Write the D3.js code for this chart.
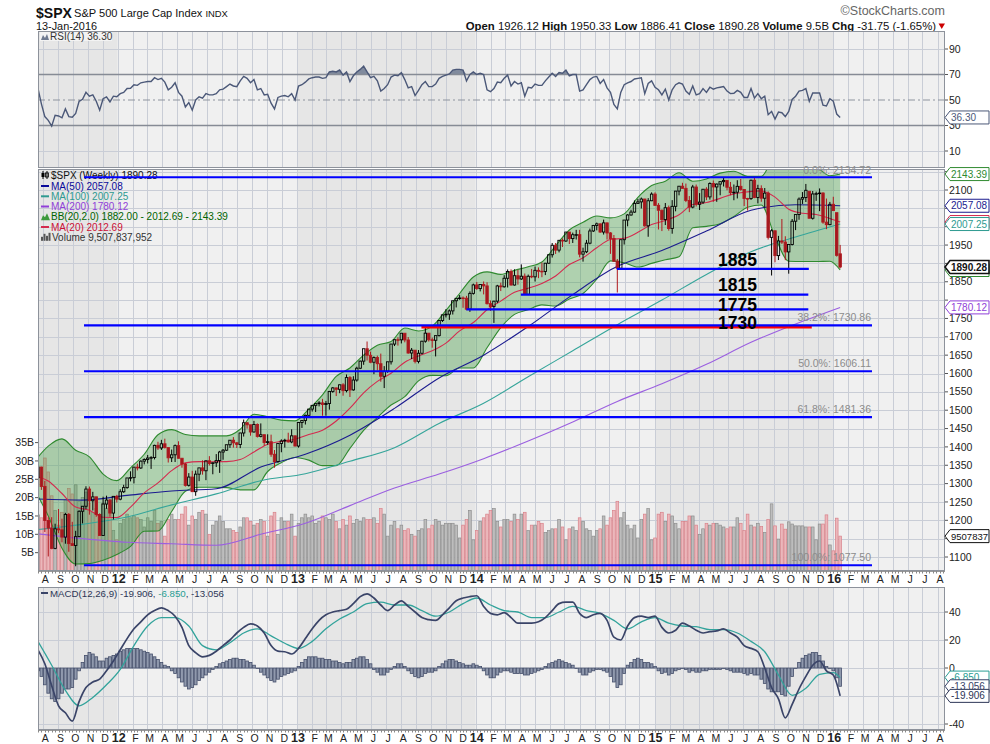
<!DOCTYPE html>
<html>
<head>
<meta charset="utf-8">
<title>$SPX weekly</title>
<script src="https://cdn.jsdelivr.net/npm/d3@7/dist/d3.min.js"></script>
<style>
html,body{margin:0;padding:0;background:#ffffff;}
svg{display:block;}
</style>
</head>
<body>
<svg id="chart" width="990" height="744"></svg>
<script>
// ================= DATA =================
// weekly bars, each dated on its Friday
const firstWeek = [2011, 6, 22];
const lastWeek = [2016, 0, 15];

const opens = [1315.9,1345.0,1292.3,1199.4,1178.8,1123.5,1176.8,1174.0,1154.2,1216.0,1136.4,1131.4,1155.5,1224.6,1238.3,1285.1,1253.2,1263.9,1215.7,1158.7,1244.3,1255.2,1219.7,1265.3,
1257.6,1277.8,1289.1,1315.4,1316.3,1344.9,1342.6,1361.2,1365.7,1369.6,1370.9,1404.2,1397.1,1408.5,1398.1,1370.3,1378.5,1403.4,1369.1,1353.4,1295.2,1317.8,1278.0,1325.7,1342.8,1335.0,1362.2,1354.7,1356.8,1362.7,1386.0,1391.0,1405.9,1418.2,1411.1,1406.6,1437.9,1465.8,1460.2,1440.7,1460.9,1428.6,1433.2,1411.9,1414.2,1379.9,1359.9,1409.2,1416.2,1418.1,1413.6,1430.2,
1402.4,1466.5,1472.1,1486.0,1503.0,1513.2,1517.9,1519.8,1515.6,1518.2,1551.2,1560.7,1556.9,1569.2,1553.3,1588.9,1555.3,1582.2,1614.4,1633.7,1667.5,1649.6,1630.7,1643.4,1626.7,1592.4,1606.3,1631.9,1680.2,1692.1,1691.7,1709.7,1691.4,1655.8,1663.5,1633.0,1655.2,1688.0,1709.9,1691.8,1690.5,1703.2,1744.5,1759.8,1761.6,1770.6,1798.2,1804.8,1805.8,1805.1,1775.3,1818.3,
1841.4,1831.4,1842.4,1838.7,1790.3,1782.6,1797.0,1838.6,1836.3,1859.5,1878.0,1841.1,1866.5,1857.6,1865.1,1815.7,1864.9,1863.4,1881.1,1878.5,1877.9,1900.5,1923.6,1949.4,1936.2,1962.9,1961.0,1985.4,1967.6,1978.2,1978.3,1925.2,1931.6,1955.1,1988.4,2003.4,2007.7,1985.5,2010.4,1982.9,1967.9,1906.1,1886.8,1964.6,2018.1,2031.9,2039.8,2063.5,2067.6,2075.4,2002.3,2070.7,
2088.8,2058.2,2044.8,2019.4,2051.8,1995.0,2055.5,2097.0,2110.3,2104.5,2071.3,2053.4,2108.1,2061.0,2067.0,2102.1,2081.2,2117.7,2108.3,2116.1,2122.7,2126.1,2107.4,2092.8,2094.1,2110.0,2101.5,2076.8,2076.6,2126.6,2079.7,2103.8,2077.6,2091.5,1970.9,1988.9,1921.2,1961.1,1958.1,1931.3,1951.4,2014.9,2033.1,2075.2,2079.4,2096.6,2023.0,2089.2,2090.1,2091.7,2012.4,2005.6,2061.0,
2038.2,1926.12];

const highs = [1347.0,1345.9,1307.4,1208.5,1208.5,1190.7,1230.7,1204.4,1220.4,1220.0,1195.9,1171.4,1227.0,1239.0,1292.7,1292.0,1277.6,1264.3,1219.0,1264.3,1267.1,1258.0,1265.9,1269.4,
1284.6,1296.8,1315.5,1333.5,1345.3,1354.3,1363.4,1368.9,1378.0,1374.8,1405.9,1414.0,1419.2,1422.4,1398.5,1392.8,1406.6,1415.3,1369.2,1356.1,1328.5,1334.9,1335.5,1343.3,1363.5,1363.0,1374.8,1357.7,1380.4,1389.2,1394.2,1406.0,1418.7,1426.7,1413.5,1438.5,1474.5,1467.1,1460.3,1470.9,1464.0,1464.0,1433.7,1434.3,1433.4,1391.4,1409.3,1420.6,1422.2,1438.6,1448.0,1430.6,
1467.9,1472.8,1487.9,1503.3,1514.4,1518.3,1524.7,1530.9,1525.3,1552.5,1563.3,1561.6,1570.3,1573.7,1597.4,1593.0,1592.6,1618.5,1635.0,1667.5,1687.2,1659.6,1646.5,1648.7,1654.2,1620.1,1632.1,1680.6,1693.1,1698.8,1709.7,1709.7,1699.4,1669.5,1663.6,1664.0,1689.0,1729.9,1710.0,1698.0,1703.4,1745.3,1759.8,1775.2,1774.5,1798.2,1804.8,1813.6,1810.0,1811.5,1823.8,1844.9,
1849.4,1843.2,1850.8,1848.6,1798.8,1798.0,1841.6,1847.5,1867.9,1883.6,1883.6,1883.9,1882.6,1897.3,1872.5,1869.6,1884.9,1891.3,1889.1,1902.2,1901.3,1924.0,1955.6,1955.6,1963.9,1968.2,1985.6,1985.6,1983.9,1991.4,1991.4,1942.9,1964.0,1994.8,2005.0,2011.2,2009.1,2019.3,2011.2,1985.2,1977.4,1912.0,1965.3,2018.2,2034.3,2046.2,2071.5,2075.8,2079.5,2075.8,2077.9,2093.6,
2093.6,2064.4,2046.8,2064.6,2057.6,2072.4,2097.4,2110.6,2119.6,2117.5,2083.5,2113.9,2114.9,2091.6,2102.6,2107.6,2120.9,2125.9,2117.7,2123.9,2134.7,2126.2,2121.9,2115.0,2126.7,2130.0,2102.0,2078.7,2128.2,2132.8,2114.2,2112.7,2105.4,2096.2,1993.5,1989.5,1975.0,2021.0,1974.0,1952.0,2020.9,2033.5,2079.7,2094.3,2116.5,2096.6,2097.3,2095.6,2104.3,2093.8,2076.7,2067.6,2081.6,
2038.2,1950.33];

const lows = [1295.9,1282.9,1168.1,1101.5,1121.1,1121.1,1164.9,1140.1,1136.2,1114.2,1131.1,1074.8,1154.0,1191.5,1230.0,1215.4,1226.6,1209.6,1158.2,1158.2,1231.5,1209.5,1202.4,1248.6,
1254.5,1274.7,1286.0,1306.1,1300.5,1335.9,1340.0,1352.3,1354.9,1340.0,1365.9,1391.6,1391.6,1395.7,1357.4,1358.8,1358.8,1367.8,1343.3,1291.9,1291.9,1277.1,1266.7,1306.6,1324.4,1309.3,1349.4,1325.4,1345.1,1329.2,1365.0,1389.0,1397.3,1398.0,1397.0,1396.6,1428.2,1449.6,1430.5,1439.0,1425.5,1426.0,1403.3,1405.9,1373.0,1343.4,1357.0,1385.4,1398.2,1411.9,1410.0,1401.6,
1398.1,1451.6,1461.0,1485.0,1496.3,1495.0,1510.4,1485.0,1485.0,1501.5,1547.4,1538.6,1546.2,1539.5,1548.6,1536.0,1553.0,1577.7,1612.0,1623.7,1635.5,1628.0,1598.2,1608.1,1577.7,1560.3,1601.9,1624.4,1674.8,1676.0,1681.9,1684.9,1654.0,1639.4,1627.5,1627.6,1652.0,1684.0,1687.0,1670.4,1646.5,1700.7,1740.5,1752.7,1746.2,1760.7,1780.0,1800.9,1779.1,1772.3,1767.99,1815.0,
1827.7,1823.7,1815.5,1788.0,1770.5,1737.9,1791.8,1824.6,1834.0,1834.4,1839.5,1839.5,1842.0,1855.0,1814.4,1815.0,1859.7,1850.6,1859.8,1862.4,1868.1,1899.0,1915.9,1925.8,1930.0,1944.7,1958.5,1952.9,1955.6,1965.0,1916.4,1904.8,1928.0,1952.0,1985.6,1990.1,1983.2,1978.6,1965.0,1926.0,1904.0,1820.7,1884.0,1951.4,2001.0,2030.2,2038.0,2062.3,2049.6,2000.0,1972.6,2069.7,
2057.0,1992.4,1988.1,2004.5,1989.2,1980.9,2041.9,2085.4,2103.8,2067.0,2039.7,2050.0,2055.1,2045.5,2062.0,2072.4,2073.9,2067.9,2067.9,2085.6,2109.6,2099.2,2085.7,2072.1,2077.0,2098.0,2056.3,2044.0,2073.0,2077.7,2063.5,2067.9,2052.1,1965.0,1867.0,1903.1,1909.2,1953.0,1908.8,1872.0,1949.0,1990.7,2018.9,2062.0,2067.3,2022.7,2019.4,2070.3,2042.4,2008.0,1993.3,2004.0,2043.6,
1918.5,1886.41];

const closes = [1345.0,1292.3,1199.4,1178.8,1123.5,1176.8,1174.0,1154.2,1216.0,1136.4,1131.4,1155.5,1224.6,1238.3,1285.1,1253.2,1263.9,1215.7,1158.7,1244.3,1255.2,1219.7,1265.3,1257.6,
1277.8,1289.1,1315.4,1316.3,1344.9,1342.6,1361.2,1365.7,1369.6,1370.9,1404.2,1397.1,1408.5,1398.1,1370.3,1378.5,1403.4,1369.1,1353.4,1295.2,1317.8,1278.0,1325.7,1342.8,1335.0,1362.2,1354.7,1356.8,1362.7,1386.0,1391.0,1405.9,1418.2,1411.1,1406.6,1437.9,1465.8,1460.2,1440.7,1460.9,1428.6,1433.2,1411.9,1414.2,1379.9,1359.9,1409.2,1416.2,1418.1,1413.6,1430.2,1402.4,
1466.5,1472.1,1486.0,1503.0,1513.2,1517.9,1519.8,1515.6,1518.2,1551.2,1560.7,1556.9,1569.2,1553.3,1588.9,1555.3,1582.2,1614.4,1633.7,1667.5,1649.6,1630.7,1643.4,1626.7,1592.4,1606.3,1631.9,1680.2,1692.1,1691.7,1709.7,1691.4,1655.8,1663.5,1633.0,1655.2,1688.0,1709.9,1691.8,1690.5,1703.2,1744.5,1759.8,1761.6,1770.6,1798.2,1804.8,1805.8,1805.1,1775.3,1818.3,1841.4,
1831.4,1842.4,1838.7,1790.3,1782.6,1797.0,1838.6,1836.3,1859.5,1878.0,1841.1,1866.5,1857.6,1865.1,1815.7,1864.9,1863.4,1881.1,1878.5,1877.9,1900.5,1923.6,1949.4,1936.2,1962.9,1961.0,1985.4,1967.6,1978.2,1978.3,1925.2,1931.6,1955.1,1988.4,2003.4,2007.7,1985.5,2010.4,1982.9,1967.9,1906.1,1886.8,1964.6,2018.1,2031.9,2039.8,2063.5,2067.6,2075.4,2002.3,2070.7,2088.8,
2058.2,2044.8,2019.4,2051.8,1995.0,2055.5,2097.0,2110.3,2104.5,2071.3,2053.4,2108.1,2061.0,2067.0,2102.1,2081.2,2117.7,2108.3,2116.1,2122.7,2126.1,2107.4,2092.8,2094.1,2110.0,2101.5,2076.8,2076.6,2126.6,2079.7,2103.8,2077.6,2091.5,1970.9,1988.9,1921.2,1961.1,1958.1,1931.3,1951.4,2014.9,2033.1,2075.2,2079.4,2099.2,2023.0,2089.2,2090.1,2091.7,2012.4,2005.6,2061.0,2043.9,
1922.0,1890.28];

// weekly volume, billions of shares
const volumesB = [15.3,14.5,30.8,27.0,20.5,16.5,12.5,16.0,19.5,22.5,21.0,23.5,19.0,20.0,21.5,18.5,16.0,17.0,11.5,18.5,17.0,18.0,11.0,8.5,
13.0,14.0,15.5,14.5,15.0,14.5,14.0,12.0,14.5,13.5,16.5,13.0,13.5,9.5,14.0,15.5,14.0,14.0,15.5,17.5,12.5,15.0,14.0,16.0,16.5,15.5,10.0,12.5,13.5,15.0,13.5,11.5,11.5,11.0,10.5,12.0,14.5,14.5,13.5,12.5,13.0,14.0,13.5,9.5,15.0,16.0,10.0,14.5,13.5,13.5,15.5,9.5,
13.0,14.5,15.5,14.5,15.0,13.0,13.5,15.0,14.5,14.0,15.5,13.5,11.5,14.0,12.5,15.0,13.0,14.0,13.5,14.5,14.0,14.0,14.5,13.0,17.0,15.5,9.5,12.5,13.5,11.5,12.5,11.0,11.5,10.0,9.5,11.0,11.5,14.0,11.5,12.5,14.0,13.5,12.5,13.0,13.0,13.0,12.5,9.0,12.5,14.0,16.5,8.5,
11.0,13.5,14.5,15.5,16.5,17.0,13.5,12.0,14.0,14.0,13.5,15.5,14.0,15.5,16.0,11.0,12.5,12.5,13.5,13.0,10.5,11.0,11.5,11.5,14.0,12.0,8.5,11.5,12.0,11.0,14.5,13.5,11.5,11.0,9.5,11.0,11.5,15.0,12.5,14.5,16.5,19.0,14.5,16.0,12.5,11.5,12.5,9.0,14.0,15.5,17.0,8.5,
9.0,15.5,16.0,13.5,15.5,15.0,13.0,11.5,13.5,13.5,15.0,15.0,12.5,10.0,11.5,13.0,12.5,13.0,13.0,12.5,12.0,11.5,12.0,12.0,14.5,13.0,11.0,15.5,12.5,12.0,13.0,12.1,10.5,14.0,18.3,12.3,8.7,12.8,11.4,13.4,12.8,12.3,12.3,12.3,12.0,12.0,12.0,8.5,12.8,12.8,15.3,7.1,5.5,
14.4,9.51];

// RSI(14), weekly
const rsi14 = [59,47,37,34,29.5,38,37.5,36,43,37,36.5,39.5,49,50.5,56,53,54,49,42,51,52.5,48.5,53,52.5,
55,56,59,59.2,62,61.5,63.5,64,64.5,64.5,67.5,66,67,64,58,60,63.5,56,53,44.5,48,42,50,52.5,
51.5,55,54,54,55,58,58.5,60.5,62.5,61,60.5,65,68.5,67,63.5,66,58,59,54,54.5,47.5,43,52,53,
53.5,52.5,55,50,61,62,64,66.5,67.5,68,68,67,67.5,72,72.5,72,73.5,69.5,72,64.5,69,72,74,76.5,
72,67.5,68.5,65,57,59,62,68,69.5,69,71.5,66,59.5,60.5,53.5,57.5,62,64.5,60.5,60.5,62.5,67,68.5,69.5,
70.5,73.5,74,74,73.5,65,70,72,70,71,70,58,56.5,59,64,63.5,67,69.5,61,64.5,62.5,63.5,53,60,
59.5,62.5,61.5,61.5,65,68,71,68.5,71.5,71,73.5,69,70,70,57,58,62,66,68,68.5,63,66,59.5,56,
46.5,43,56,62,63.5,64.5,66.5,67,67.5,55,63,65,60,58,54,58.5,50,58,62,63.5,62.5,57,54.5,61,
54,55,59,56,60,58.5,59.5,60,60.5,57,55,55.3,57.5,56,52,52,59,51.5,55,51,53,38.5,41,35,
40.5,40,37,41,50.5,53,57,57.5,59,49,55.5,55.5,55.5,46,45.3,51,49,39,36.3];

// MACD(12,26,9): line sampled every 2nd week (week 0..232) + final week
const macdLine = [13,3,-12.6,-27,-32,-38,-24,-14,-10,-8,
-2,5,13,21,28,33,38,41,43,41,
37,29,16,11,8,9,12,16,20,25,
29,31.5,30,25,16,12,11.6,10,14,21,
28,34,38,40,41,42,46,51,53,50,
45,41,45,48,44,40,36,34.5,34,38,
43,48,50,51,51.6,44,39,38,39.5,36,
32,32,32,33,36,41,46,47,47,39,
36,38,39,34,22,20,30,36,37,36,
37,29,25,27,32,30,27,25,26,26.5,
28,25,22,16,14,11.6,0,-14,-22,-35.6,
-26,-15,-6,2,5,-2,-5,
-19.906];
// signal line sampled every 4th week (week 0..232) + final week
const macdSignal = [19,2,-16,-27,-21,-12,-1,16,30,36,36,30,16,13,18,25,28,23,17.7,14,
19,28,35,40,46,47,45,45,41,37,40,46,50,45,41,40,36,36,40,44,
41,39,34,28,33,36,32,30,29.5,27.4,27.4,25,19,11.6,-5,-19.5,-14.5,-4.5,-3.3,
-6.85];
// histogram, weekly
const macdHist = [-2,-6,-12,-18,-22,-24,-22,-18,-15,-15,-14,-8,
-2,4,9,11,10,8,5,5,7,8,9,10,
12,13,14,14,14,14,13,12,11,10,8,6,
4,2,1,-2,-4,-7,-10,-13,-15,-14,-12,-9,
-7,-5,-3,-1,1,3,4,5,6,7,7,6,
6,5,4,2,0,-3,-5,-7,-9,-10,-8,-6,
-5,-4,-3,-2,1,4,6,8,8,8,7,7,
6,6,5,5,4,3,4,4,6,7,8,8,
6,3,-1,-3,-5,-5,-3,-1,1,3,3,1,
-2,-4,-6,-7,-6,-4,-3,-3,-2,1,3,5,
6,6,5,4,3,2,2,3,2,1,-2,-5,
-7,-7,-5,-3,-2,-2,-3,-4,-4,-4,-5,-5,
-4,-3,-2,-1,1,3,4,5,6,5,4,3,
2,0,-3,-5,-5,-3,-2,-1,-1,-2,-3,-6,
-10,-14,-12,-4,2,4,6,7,6,4,4,3,
1,-2,-4,-3,-5,-4,-2,-1,0,-1,-3,-2,
-3,-3,-2,-2,-1,-1,-1,-1,0,-1,-2,-3,
-3,-3,-4,-5,-4,-5,-5,-8,-11,-15,-17,-17,
-17,-19,-20,-13,-6,0,4,7,9,10,11,11,
9,5,1,0,-2,-7,-13.056];

// moving averages, sampled every 13 weeks (week 0 .. 234)
const ma50 = [1258,1255,1268,1280,1286,1345,1380,1432,1505,1588,1650,1728,1815,1892,1935,1988,2045,2060,2057.08];
const ma100 = [1175,1189,1209,1242,1272,1308,1327,1361,1398,1464,1519,1591,1662,1733,1800,1870,1932,1972,2007.25];
const ma200 = [1163,1150,1140,1136,1132,1162,1192,1240,1288,1326,1368,1416,1468,1524,1572,1625,1685,1735,1780.12];

// MA(20) and Bollinger Bands(20,2): week 0, then weeks 3,7,11,...,231, then final week
const ma20 = [1318.7,1307.3,1273,1236.1,1227.5,1208.3,1207.5,1235.9,1274.8,1301.8,1335.4,1356.5,1359.9,1359.6,1359.8,1365.7,1386.1,1407.3,1415,1421,1433.6,1445.6,1470.5,1505.6,1547.2,1578.4,1600.6,1630.5,1647.6,1661.8,1682.7,1716.2,1738.9,1773.6,1797.3,1821.1,1832.3,1845.3,1865.7,1896.8,1915.2,1942.7,1965.1,1968.4,1984.7,2005.9,2016.9,2032.4,2060.5,2065.8,2077.2,2089.5,2094.9,2097.5,2080.6,2047.4,2036.5,2033.3,2022.4,2012.69];
const bbUpper = [1372,1402,1422,1391,1373,1326,1308,1343,1380,1433,1447,1434,1430,1430,1430,1448,1489,1482,1473,1471,1503,1542,1592,1615,1650,1677,1687,1724,1716,1729,1772,1818,1863,1877,1870,1881,1891,1904,1948,1991,2012,2029,2024,2035,2080,2112,2124,2147,2124,2130,2146,2151,2137,2137,2189,2189,2168,2162,2139,2143.39];
const bbLower = [1266,1212,1124,1081,1082,1091,1107,1129,1170,1171,1224,1279,1290,1290,1289,1283,1283,1333,1357,1371,1364,1349,1349,1396,1445,1480,1514,1537,1580,1595,1594,1615,1615,1670,1725,1761,1774,1787,1784,1803,1818,1857,1907,1902,1890,1900,1910,1918,1997,2001,2008,2028,2053,2059,1973,1906,1905,1905,1906,1882.00];

// Fibonacci retracement levels and drawn support lines
const fibPct = ["0.0%","38.2%","50.0%","61.8%","100.0%"];
const fibLevels = [2134.72,1730.86,1606.11,1481.36,1077.50];
const fibSpan = ["2011-10-24","2016-03-20"];
const supportLevels = [1885,1815,1775,1730];
const supportFrom = ["2014-10-16","2014-04-03","2013-12-13","2013-09-12"];
const supportTo = ["2015-11-12","2015-11-11","2015-11-11","2015-11-18"];
const supportColor = ["#0000ff","#0000ff","#0000ff","#ff0000"];

// tick labels
const priceTicks = d3.range(1100, 2151, 50);
const volTicks = [5,10,15,20,25,30,35];
const rsiTicks = [10,30,50,70,90];
const macdTicks = [-40,-20,0,20,40];
const monthLetters = ["J","F","M","A","M","J","J","A","S","O","N","D"];
const headerLabels = ["Open","High","Low","Close","Volume","Chg"];
const headerValues = ["1926.12","1950.33","1886.41","1890.28","9.5B","-31.75 (-1.65%)"];

// ================= CHART =================
const fontS = '"Liberation Sans", Arial, sans-serif';
const svg = d3.select("#chart");
const L = 38, R = 945;
const PR = {top: 31, bottom: 168}, PM = {top: 169, bottom: 571}, PD = {top: 587, bottom: 730};

const weeks = d3.timeFriday.range(new Date(...firstWeek), d3.timeDay.offset(new Date(...lastWeek), 1));
const x = d3.scaleTime().domain([new Date(2012,0,1), new Date(2016,0,1)]).range([117.8, 833.3]);
const yR = d3.scaleLinear().domain([10, 90]).range([151, 49]);
const yP = d3.scaleLinear().domain([1100, 2100]).range([557, 190]);
const yV = d3.scaleLinear().domain([0, 35]).range([571, 442.6]);
const yM = d3.scaleLinear().domain([-40, 40]).range([724, 612]);
const months = d3.timeMonth.range(new Date(2011,7,1), new Date(2016,7,2));
const pd = s => { const [a,b,c] = s.split("-").map(Number); return new Date(a, b-1, c); };

const defs = svg.append("defs");
[["cR",PR],["cM",PM],["cD",PD]].forEach(([id,p]) => {
  defs.append("clipPath").attr("id", id).append("rect")
    .attr("x", L).attr("y", p.top).attr("width", R - L).attr("height", p.bottom - p.top);
});

function panelBase(p, yScale, hTicks) {
  const g = svg.append("g");
  const edges = [L, ...[2012,2013,2014,2015,2016].map(yy => x(new Date(yy,0,1))), R];
  for (let k = 0; k < edges.length - 1; k++) {
    g.append("rect").attr("x", edges[k]).attr("y", p.top)
      .attr("width", edges[k+1] - edges[k]).attr("height", p.bottom - p.top)
      .attr("fill", k % 2 === 0 ? "#e6e6e6" : "#f0f0f0");
  }
  months.forEach(m => {
    const xx = Math.round(x(m)) + 0.5;
    if (xx > L && xx < R) g.append("line").attr("x1", xx).attr("x2", xx)
      .attr("y1", p.top).attr("y2", p.bottom).attr("stroke", "#c9cdd6").attr("stroke-width", 1);
  });
  hTicks.forEach(t => {
    const yy = Math.round(yScale(t)) + 0.5;
    if (yy > p.top && yy < p.bottom) g.append("line").attr("x1", L).attr("x2", R)
      .attr("y1", yy).attr("y2", yy).attr("stroke", "#c9cdd6").attr("stroke-width", 1);
  });
  return g;
}
function panelFrame(p) {
  svg.append("rect").attr("x", L + 0.5).attr("y", p.top + 0.5)
    .attr("width", R - L - 1).attr("height", p.bottom - p.top - 1)
    .attr("fill", "none").attr("stroke", "#8d929b").attr("stroke-width", 1);
}
// right-axis labels; a label sitting under a value tag is hidden, as in the reference
function rightLabels(ticks, yScale, tagYs) {
  ticks.forEach(t => {
    const yy = yScale(t);
    svg.append("line").attr("x1", R).attr("x2", R + 3).attr("y1", yy).attr("y2", yy).attr("stroke", "#555");
    if (tagYs.some(ty => Math.abs(ty - yy) < 9)) return;
    svg.append("text").attr("x", R + 4).attr("y", yy + 3.6)
      .attr("font-family", fontS).attr("font-size", 10.5).attr("fill", "#222").text(t);
  });
}
function tagShape(y, color, bold) {
  svg.append("path").attr("d", `M${R},${y} L${R+5},${y-6.5} L989,${y-6.5} L989,${y+6.5} L${R+5},${y+6.5} Z`)
    .attr("fill", "#fff").attr("stroke", color).attr("stroke-width", bold ? 1.6 : 1);
}
function tag(y, txt, color, bold) {
  tagShape(y, color, bold);
  const t = svg.append("text").attr("x", R + 6).attr("y", y + 3.6).attr("font-family", fontS)
    .attr("font-size", 10).attr("font-weight", bold ? "bold" : "normal").attr("fill", color).text(txt);
  fitFont(t, 10, 37);
}
// shrink a text's font size until it fits the width it has in the reference
function fitFont(sel, base, maxW) {
  const w = sel.node().getComputedTextLength();
  if (w > maxW) sel.attr("font-size", base * maxW / w);
  return sel;
}
function timeStrip(yTop) {
  svg.append("line").attr("x1", L).attr("x2", R).attr("y1", yTop + 0.5).attr("y2", yTop + 0.5).attr("stroke", "#9a9a9a");
  d3.timeFriday.range(new Date(...firstWeek), new Date(2016,7,20)).forEach(w => {
    const xx = Math.round(x(w)) + 0.5;
    if (xx > L && xx < R) svg.append("line").attr("x1", xx).attr("x2", xx).attr("y1", yTop).attr("y2", yTop + 2.5).attr("stroke", "#8a8a8a");
  });
  months.forEach(m => {
    const xx = x(m);
    if (xx < L || xx > R) return;
    const isYear = m.getMonth() === 0;
    svg.append("text").attr("x", xx + (isYear ? 1 : 2.5)).attr("y", yTop + 12)
      .attr("text-anchor", "middle").attr("font-family", fontS)
      .attr("font-size", isYear ? 12.5 : 10.5).attr("font-weight", isYear ? "bold" : "normal")
      .attr("fill", "#222").text(isYear ? String(m.getFullYear()).slice(2) : monthLetters[m.getMonth()]);
  });
}

// ---------- header ----------
fitFont(svg.append("text").attr("x", 36).attr("y", 18).attr("font-family", fontS).attr("font-weight", "bold")
  .attr("font-size", 17).attr("fill", "#111").text("$SPX"), 17, 36);
const ttl = svg.append("text").attr("x", 74).attr("y", 17).attr("font-family", fontS).attr("font-size", 12).attr("fill", "#111");
ttl.append("tspan").text("S&P 500 Large Cap Index ");
ttl.append("tspan").attr("font-size", "0.85em").text("INDX");
fitFont(ttl, 12, 154);
fitFont(svg.append("text").attr("x", 36).attr("y", 30).attr("font-family", fontS).attr("font-size", 12.5)
  .attr("fill", "#111").text("13-Jan-2016"), 12.5, 61);
fitFont(svg.append("text").attr("x", R).attr("y", 15).attr("text-anchor", "end").attr("font-family", fontS)
  .attr("font-size", 12.5).attr("fill", "#666").text("\u00A9StockCharts.com"), 12.5, 105);
const hv = svg.append("text").attr("x", 936).attr("y", 30).attr("text-anchor", "end")
  .attr("font-family", fontS).attr("font-size", 13).attr("fill", "#111");
headerLabels.forEach((lab, k) => {
  hv.append("tspan").attr("font-weight", "bold").text((k ? " " : "") + lab + " ");
  hv.append("tspan").text(headerValues[k]);
});
fitFont(hv, 13, 471);
svg.append("path").attr("d", "M938.5,23.5 L945,23.5 L941.75,29 Z").attr("fill", "#cc0000");

// ---------- RSI panel ----------
panelBase(PR, yR, [10, 90]);
const gR = svg.append("g").attr("clip-path", "url(#cR)");
const rsiPts = rsi14.map((v, i) => [x(weeks[i]), v]);
gR.append("path").attr("d", d3.area().x(d => d[0]).y0(yR(70)).y1(d => yR(Math.max(d[1], 70)))(rsiPts))
  .attr("fill", "#6f7a90").attr("opacity", 0.85);
gR.append("path").attr("d", d3.area().x(d => d[0]).y0(yR(30)).y1(d => yR(Math.min(d[1], 30)))(rsiPts))
  .attr("fill", "#6f7a90").attr("opacity", 0.85);
[30, 70].forEach(v => gR.append("line").attr("x1", L).attr("x2", R).attr("y1", yR(v)).attr("y2", yR(v))
  .attr("stroke", "#868b95").attr("stroke-width", 1.6));
gR.append("line").attr("x1", L).attr("x2", R).attr("y1", yR(50)).attr("y2", yR(50))
  .attr("stroke", "#8d939e").attr("stroke-width", 1.2).attr("stroke-dasharray", "7,3,2,3");
gR.append("path").attr("d", d3.line().x(d => d[0]).y(d => yR(d[1]))(rsiPts))
  .attr("fill", "none").attr("stroke", "#4b5878").attr("stroke-width", 1.4);
panelFrame(PR);
rightLabels(rsiTicks, yR, []);
svg.append("rect").attr("x", 40).attr("y", 32).attr("width", 72).attr("height", 9).attr("fill", "#f3f3f3");
svg.append("path").attr("d", "M41,40 L43,35 L45,38 L47,34 L49,40 Z").attr("fill", "#6f7a90");
svg.append("text").attr("x", 50).attr("y", 40).attr("font-family", fontS).attr("font-size", 10).attr("fill", "#333").text("RSI(14) 36.30");
tag(yR(36.30), "36.30", "#4b5878", false);

// ---------- price panel ----------
panelBase(PM, yP, priceTicks);
const gM = svg.append("g").attr("clip-path", "url(#cM)");
// volume overlay
weeks.forEach((w, i) => {
  const down = i > 0 && closes[i] < closes[i-1];
  gM.append("rect").attr("x", x(w) - 1.35).attr("y", yV(volumesB[i])).attr("width", 2.7)
    .attr("height", yV(0) - yV(volumesB[i]))
    .attr("fill", down ? "#ebb7bb" : "#bdbdbd").attr("stroke", down ? "#d9828a" : "#8e8e8e").attr("stroke-width", 0.7);
});
// Bollinger bands
const bbWeeks = [0, ...d3.range(3, 232, 4), 234];
const bbX = k => x(weeks[bbWeeks[k]]);
gM.append("path").attr("d", d3.area().x((d, k) => bbX(k)).y0((d, k) => yP(bbLower[k])).y1(d => yP(d))
  .curve(d3.curveMonotoneX)(bbUpper)).attr("fill", "#3d9a3d").attr("fill-opacity", 0.36);
[bbUpper, bbLower].forEach(arr => gM.append("path")
  .attr("d", d3.line().x((d, k) => bbX(k)).y(d => yP(d)).curve(d3.curveMonotoneX)(arr))
  .attr("fill", "none").attr("stroke", "#2f8a2f").attr("stroke-width", 1.1));
// moving averages
const maWeeks = d3.range(0, 235, 13);
const maLine = arr => d3.line().x((d, k) => x(weeks[maWeeks[k]])).y(d => yP(d)).curve(d3.curveMonotoneX)(arr);
gM.append("path").attr("d", maLine(ma200)).attr("fill", "none").attr("stroke", "#9b5fe0").attr("stroke-width", 1.1);
gM.append("path").attr("d", maLine(ma100)).attr("fill", "none").attr("stroke", "#35a59a").attr("stroke-width", 1.1);
gM.append("path").attr("d", maLine(ma50)).attr("fill", "none").attr("stroke", "#1b1b8f").attr("stroke-width", 1.1);
gM.append("path").attr("d", d3.line().x((d, k) => bbX(k)).y(d => yP(d)).curve(d3.curveMonotoneX)(ma20))
  .attr("fill", "none").attr("stroke", "#d42a4e").attr("stroke-width", 1.1);
// candles
weeks.forEach((w, i) => {
  const o = opens[i], c = closes[i], h = highs[i], l = lows[i];
  const prev = i > 0 ? closes[i-1] : o;
  const col = c >= prev ? "#000000" : "#b0181e";
  const xx = x(w);
  const top = Math.max(o, c), bot = Math.min(o, c);
  gM.append("line").attr("x1", xx).attr("x2", xx).attr("y1", yP(h)).attr("y2", yP(top)).attr("stroke", col).attr("stroke-width", 1);
  gM.append("line").attr("x1", xx).attr("x2", xx).attr("y1", yP(bot)).attr("y2", yP(l)).attr("stroke", col).attr("stroke-width", 1);
  gM.append("rect").attr("x", xx - 1.2).attr("y", yP(top)).attr("width", 2.4)
    .attr("height", Math.max(0.6, yP(bot) - yP(top)))
    .attr("fill", c < o ? "#a3191f" : "none").attr("stroke", col).attr("stroke-width", 0.9);
});
// legend
const lg = svg.append("g").attr("font-family", fontS).attr("font-size", 10);
const lgY = [179, 189.5, 199.8, 210, 220.3, 230.5, 240.8];
lg.append("line").attr("x1", 43).attr("x2", 43).attr("y1", lgY[0]-8).attr("y2", lgY[0]).attr("stroke", "#000");
lg.append("rect").attr("x", 41.5).attr("y", lgY[0]-6).attr("width", 3).attr("height", 4).attr("fill", "#000");
lg.append("line").attr("x1", 47).attr("x2", 47).attr("y1", lgY[0]-8).attr("y2", lgY[0]).attr("stroke", "#000");
lg.append("rect").attr("x", 45.5).attr("y", lgY[0]-6).attr("width", 3).attr("height", 4).attr("fill", "none").attr("stroke", "#000").attr("stroke-width", 0.8);
lg.append("text").attr("x", 51).attr("y", lgY[0]).attr("fill", "#111").text("$SPX (Weekly) 1890.28");
const lgItems = [["MA(50) 2057.08", "#0a0a9a"], ["MA(100) 2007.25", "#2e9a90"], ["MA(200) 1780.12", "#9040d8"]];
lgItems.forEach(([t, c], k) => {
  lg.append("line").attr("x1", 41).attr("x2", 49).attr("y1", lgY[k+1]-3.5).attr("y2", lgY[k+1]-3.5).attr("stroke", c).attr("stroke-width", 2);
  lg.append("text").attr("x", 51).attr("y", lgY[k+1]).attr("fill", c).text(t);
});
lg.append("path").attr("d", `M41,${lgY[4]} L43,${lgY[4]-5} L45,${lgY[4]-3} L47,${lgY[4]-7} L50,${lgY[4]} Z`).attr("fill", "#3d9a3d");
lg.append("text").attr("x", 51).attr("y", lgY[4]).attr("fill", "#006400").text("BB(20,2.0) 1882.00 - 2012.69 - 2143.39");
lg.append("line").attr("x1", 41).attr("x2", 49).attr("y1", lgY[5]-3.5).attr("y2", lgY[5]-3.5).attr("stroke", "#d42a4e").attr("stroke-width", 2);
lg.append("text").attr("x", 51).attr("y", lgY[5]).attr("fill", "#cc1136").text("MA(20) 2012.69");
[[41,4],[43.5,7],[46,5],[48.5,8]].forEach(([bx, bh]) => lg.append("rect").attr("x", bx).attr("y", lgY[6]-bh).attr("width", 2).attr("height", bh).attr("fill", "#555"));
lg.append("text").attr("x", 52).attr("y", lgY[6]).attr("fill", "#333").text("Volume 9,507,837,952");
// support lines and fib levels
const gL = svg.append("g").attr("clip-path", "url(#cM)");
supportLevels.forEach((v, k) => {
  if (supportColor[k] === "#ff0000") gL.append("line").attr("x1", x(pd(supportFrom[k]))).attr("x2", x(pd(supportTo[k])))
    .attr("y1", yP(v) + 1).attr("y2", yP(v) + 1).attr("stroke", "#ff0000").attr("stroke-width", 3.4);
});
fibLevels.forEach((v, k) => {
  gL.append("line").attr("x1", x(pd(fibSpan[0]))).attr("x2", x(pd(fibSpan[1])))
    .attr("y1", yP(v)).attr("y2", yP(v)).attr("stroke", "#0000ff").attr("stroke-width", 2.2);
});
supportLevels.forEach((v, k) => {
  if (supportColor[k] !== "#ff0000") gL.append("line").attr("x1", x(pd(supportFrom[k]))).attr("x2", x(pd(supportTo[k])))
    .attr("y1", yP(v)).attr("y2", yP(v)).attr("stroke", supportColor[k]).attr("stroke-width", 2.3);
});
fibLevels.forEach((v, k) => {
  svg.append("text").attr("x", x(pd(fibSpan[1])) - 1).attr("y", yP(v) - (k === 0 ? 3.5 : 4)).attr("text-anchor", "end")
    .attr("font-family", fontS).attr("font-size", 10.5).attr("fill", "#8c8c8c").text(fibPct[k] + ": " + v.toFixed(2));
});
const supLabelDy = [-3, -3.6, 1.4, 3.2];
supportLevels.forEach((v, k) => {
  svg.append("text").attr("x", 718).attr("y", yP(v) + supLabelDy[k]).attr("font-family", fontS)
    .attr("font-size", 17.5).attr("font-weight", "bold").attr("fill", "#000").text(String(v));
});
panelFrame(PM);
const mainTagVals = [1882.00, 2012.69, 2143.39, 2057.08, 2007.25, 1890.28, 1780.12];
rightLabels(priceTicks, yP, [...mainTagVals.map(yP), yV(9.507837952)]);
volTicks.forEach(t => {
  svg.append("line").attr("x1", L - 3).attr("x2", L).attr("y1", yV(t)).attr("y2", yV(t)).attr("stroke", "#555");
  svg.append("text").attr("x", L - 4).attr("y", yV(t) + 3.6).attr("text-anchor", "end")
    .attr("font-family", fontS).attr("font-size", 10.5).attr("fill", "#222").text(t + "B");
});
// BB-lower and MA(20) tags sit fully under the 1890.28 / 2007.25 tags: only their edges show
tagShape(yP(1882.00), "#2f8a2f", false);
tagShape(yP(2012.69), "#d42a4e", false);
tag(yP(2143.39), "2143.39", "#2f8a2f", false);
tag(yP(2057.08), "2057.08", "#1b1b8f", false);
tag(yP(2007.25), "2007.25", "#2e9a90", false);
tag(yP(1890.28), "1890.28", "#111111", true);
tag(yP(1780.12), "1780.12", "#9040d8", false);
tag(yV(9.507837952), "9507837", "#111111", false);
timeStrip(PM.bottom);

// ---------- MACD panel ----------
panelBase(PD, yM, macdTicks);
const gD = svg.append("g").attr("clip-path", "url(#cD)");
weeks.forEach((w, i) => {
  const v = macdHist[i];
  gD.append("rect").attr("x", x(w) - 1.4).attr("y", Math.min(yM(v), yM(0))).attr("width", 2.8)
    .attr("height", Math.max(0.5, Math.abs(yM(v) - yM(0))))
    .attr("fill", "#9099ad").attr("stroke", "#454f6b").attr("stroke-width", 0.8);
});
const sigWeeks = [...d3.range(0, 233, 4), 234];
const macdWeeks = [...d3.range(0, 233, 2), 234];
gD.append("path").attr("d", d3.line().x((d, k) => x(weeks[sigWeeks[k]])).y(d => yM(d)).curve(d3.curveMonotoneX)(macdSignal))
  .attr("fill", "none").attr("stroke", "#32a39b").attr("stroke-width", 1.3);
gD.append("path").attr("d", d3.line().x((d, k) => x(weeks[macdWeeks[k]])).y(d => yM(d)).curve(d3.curveMonotoneX)(macdLine))
  .attr("fill", "none").attr("stroke", "#3a4468").attr("stroke-width", 1.7);
panelFrame(PD);
rightLabels(macdTicks, yM, [yM(-13.056), yM(-19.906)]);
svg.append("line").attr("x1", 41).attr("x2", 48).attr("y1", 593).attr("y2", 593).attr("stroke", "#3a4468").attr("stroke-width", 2);
const ml = svg.append("text").attr("x", 50).attr("y", 597).attr("font-family", fontS).attr("font-size", 11).attr("fill", "#2d3656");
ml.append("tspan").text("MACD(12,26,9) -19.906, ");
ml.append("tspan").attr("fill", "#2a9d93").text("-6.850");
ml.append("tspan").text(", -13.056");
fitFont(ml, 11, 174);
tag(yM(-6.850), "-6.850", "#2a9d93", false);
tag(yM(-13.056), "-13.056", "#3a4468", false);
tag(yM(-19.906), "-19.906", "#2d3656", false);
timeStrip(PD.bottom);
</script>
</body>
</html>
